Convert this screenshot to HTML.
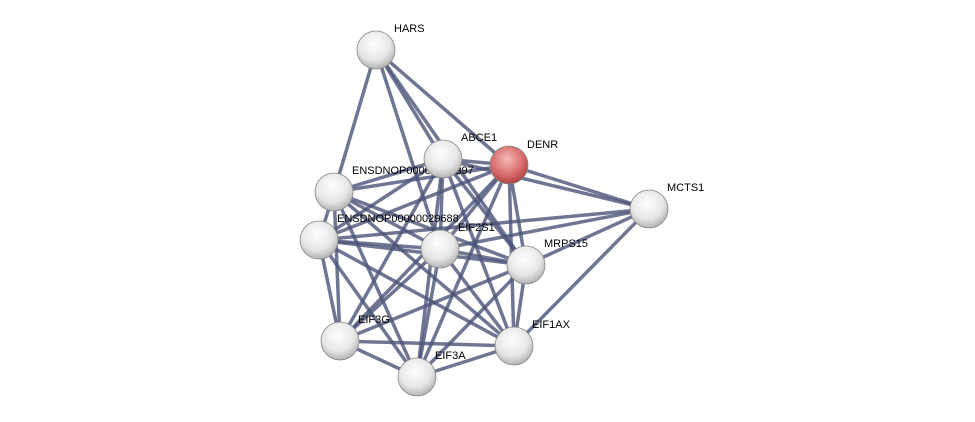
<!DOCTYPE html>
<html><head><style>body{margin:0;background:#fff}svg{display:block}</style></head><body>
<svg width="975" height="422" xmlns="http://www.w3.org/2000/svg">
<defs>
<radialGradient id="g" cx="0.45" cy="0.35" r="0.7"><stop offset="0" stop-color="#ffffff"/><stop offset="0.6" stop-color="#e6e6e6"/><stop offset="1" stop-color="#a8a8a8"/></radialGradient>
<radialGradient id="r" cx="0.45" cy="0.35" r="0.7"><stop offset="0" stop-color="#f4b8b8"/><stop offset="0.6" stop-color="#d86a6a"/><stop offset="1" stop-color="#a03838"/></radialGradient>
</defs>
<g stroke="#4b5478" stroke-width="3.5" stroke-opacity="0.8" fill="none">
<line x1="376" y1="50" x2="334" y2="192"/>
<line x1="376" y1="50" x2="443" y2="159"/>
<line x1="376" y1="50" x2="509" y2="165"/>
<line x1="376" y1="50" x2="440" y2="249"/>
<line x1="376" y1="50" x2="526" y2="265"/>
<line x1="509" y1="165" x2="649" y2="209"/>
<line x1="509" y1="165" x2="443" y2="159"/>
<line x1="509" y1="165" x2="334" y2="192"/>
<line x1="509" y1="165" x2="319" y2="240"/>
<line x1="509" y1="165" x2="440" y2="249"/>
<line x1="509" y1="165" x2="526" y2="265"/>
<line x1="509" y1="165" x2="514" y2="346"/>
<line x1="509" y1="165" x2="417" y2="377"/>
<line x1="509" y1="165" x2="340" y2="341"/>
<line x1="649" y1="209" x2="443" y2="159"/>
<line x1="649" y1="209" x2="440" y2="249"/>
<line x1="649" y1="209" x2="319" y2="240"/>
<line x1="649" y1="209" x2="526" y2="265"/>
<line x1="649" y1="209" x2="514" y2="346"/>
<line x1="334" y1="192" x2="319" y2="240"/>
<line x1="334" y1="192" x2="443" y2="159"/>
<line x1="334" y1="192" x2="440" y2="249"/>
<line x1="334" y1="192" x2="526" y2="265"/>
<line x1="334" y1="192" x2="340" y2="341"/>
<line x1="334" y1="192" x2="514" y2="346"/>
<line x1="334" y1="192" x2="417" y2="377"/>
<line x1="319" y1="240" x2="443" y2="159"/>
<line x1="319" y1="240" x2="440" y2="249"/>
<line x1="319" y1="240" x2="526" y2="265"/>
<line x1="319" y1="240" x2="340" y2="341"/>
<line x1="319" y1="240" x2="514" y2="346"/>
<line x1="319" y1="240" x2="417" y2="377"/>
<line x1="443" y1="159" x2="440" y2="249"/>
<line x1="443" y1="159" x2="526" y2="265"/>
<line x1="443" y1="159" x2="340" y2="341"/>
<line x1="443" y1="159" x2="514" y2="346"/>
<line x1="443" y1="159" x2="417" y2="377"/>
<line x1="440" y1="249" x2="526" y2="265"/>
<line x1="440" y1="249" x2="340" y2="341"/>
<line x1="440" y1="249" x2="514" y2="346"/>
<line x1="440" y1="249" x2="417" y2="377"/>
<line x1="526" y1="265" x2="340" y2="341"/>
<line x1="526" y1="265" x2="514" y2="346"/>
<line x1="526" y1="265" x2="417" y2="377"/>
<line x1="340" y1="341" x2="514" y2="346"/>
<line x1="340" y1="341" x2="417" y2="377"/>
<line x1="514" y1="346" x2="417" y2="377"/>
</g>
<g font-family="Liberation Sans, sans-serif" font-size="11" fill="#000">
<text x="394" y="32">HARS</text>
<text x="461" y="141">ABCE1</text>
<text x="527" y="148">DENR</text>
<text x="352" y="174">ENSDNOP00000013397</text>
<text x="337" y="222">ENSDNOP00000029688</text>
<text x="458" y="231">EIF2S1</text>
<text x="544" y="247">MRPS15</text>
<text x="667" y="191">MCTS1</text>
<text x="358" y="323">EIF3G</text>
<text x="532" y="328">EIF1AX</text>
<text x="435" y="359">EIF3A</text>
</g>
<g stroke="#888" stroke-width="0.8" fill="url(#g)">
<circle cx="376" cy="50" r="19"/>
<circle cx="443" cy="159" r="19"/>
<circle cx="509" cy="165" r="19" fill="url(#r)"/>
<circle cx="334" cy="192" r="19"/>
<circle cx="319" cy="240" r="19"/>
<circle cx="440" cy="249" r="19"/>
<circle cx="526" cy="265" r="19"/>
<circle cx="649" cy="209" r="19"/>
<circle cx="340" cy="341" r="19"/>
<circle cx="514" cy="346" r="19"/>
<circle cx="417" cy="377" r="19"/>
</g>
</svg>
</body></html>
